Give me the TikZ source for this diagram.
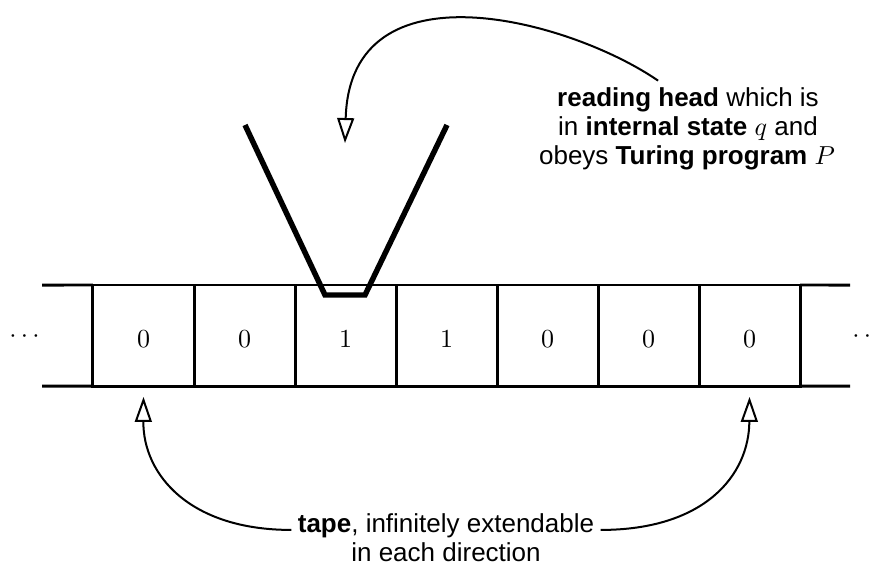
\documentclass[tikz,border=0pt]{standalone}
\usepackage[no-math]{fontspec}
\setmainfont{Liberation Sans}
\usetikzlibrary{arrows.meta}

% one drawing unit is 0.3846pt, so the 10pt text is 26 units high
\tikzset{
  tapeline/.style={line width=1.15pt},
  cell/.style={draw, line width=1.15pt, minimum width=38.85pt, minimum height=38.85pt,
    inner sep=0pt, outer sep=0pt, text height=8.85pt, text depth=0pt},
  headline/.style={line width=2.1pt},
  pointer/.style={line width=0.77pt,
    -{Triangle[open, length=9.6pt, width=6.5pt, line width=0.77pt]}},
  txt/.style={inner sep=2.3pt, anchor=base},
}

\begin{document}
\begin{tikzpicture}[x=0.3846pt, y=-0.3846pt, font=\fontsize{10pt}{12pt}\selectfont]
  \useasboundingbox (0,0) rectangle (877,566);

  % tape cells
  \foreach \d [count=\i] in {0,0,1,1,0,0,0} {
    \node[cell] (c\i) at ({143.5+101*(\i-1)},335.5) {$\d$};
  }
  % tape continues on both sides
  \coordinate (ltop) at (42,285);
  \coordinate (lbot) at (42,386);
  \coordinate (rtop) at (850,285);
  \coordinate (rbot) at (850,386);
  \draw[tapeline] (ltop) -- (c1.north west);
  \draw[tapeline] (lbot) -- (c1.south west);
  \draw[tapeline] (c7.north east) -- (rtop);
  \draw[tapeline] (c7.south east) -- (rbot);

  \node[anchor=base, inner sep=0pt] (ldots) at (24.6,342) {$\cdots$};
  \node[anchor=base, inner sep=0pt] (rdots) at (867.6,342) {$\cdots$};

  % reading head
  \coordinate (hl) at (245,125);
  \coordinate (hbl) at (325,295);
  \coordinate (hbr) at (365,295);
  \coordinate (hr) at (447,125);
  \draw[headline] (hl) -- (hbl) -- (hbr) -- (hr);

  % head description
  \node[txt] (h1) at (688,106) {\bfseries reading head\mdseries{} which is};
  \node[txt] (h2) at (688,135) {in \bfseries internal state\mdseries{} $q$ and};
  \node[txt] (h3) at (687,164) {obeys \bfseries Turing program\mdseries{} $P$};
  \coordinate (htip) at (345,143);
  \draw[pointer] ([xshift=-11.5pt]h1.north) .. controls (570,20) and (350,-40) .. (htip);

  % tape description
  \node[txt] (t1) at (446,532) {\bfseries tape\mdseries, infinitely extendable};
  \node[txt] (t2) at (446,561) {in each direction};
  \coordinate (ltip) at ([yshift=-4.2pt]c1.south);
  \coordinate (rtip) at ([yshift=-4.2pt]c7.south);
  \draw[pointer] ([yshift=0.8pt]t1.base west) .. controls (190,530) and (143,475) .. (ltip);
  \draw[pointer] ([yshift=0.8pt]t1.base east) .. controls (705,530) and (749,475) .. (rtip);
\end{tikzpicture}
\end{document}
